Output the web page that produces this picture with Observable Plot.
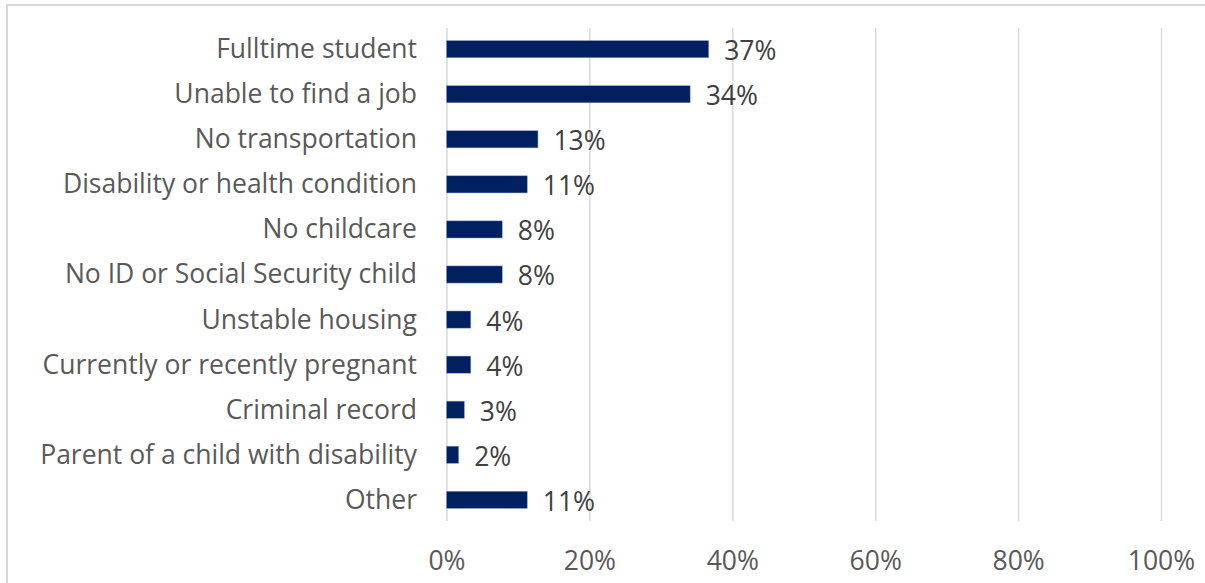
<!DOCTYPE html>
<html>
<head>
<meta charset="utf-8">
<script src="https://cdn.jsdelivr.net/npm/d3@7"></script>
<script src="https://cdn.jsdelivr.net/npm/@observablehq/plot@0.6"></script>
<style>
  html, body { margin: 0; padding: 0; background: #fff; overflow: hidden; width: 1205px; height: 583px; }
  #frame { position: absolute; left: 6px; top: 4px; width: 1400px; height: 800px; border: 2px solid #d9d9d9; box-sizing: border-box; }
  #chart { position: absolute; left: 0; top: 0; }
</style>
</head>
<body>
<div id="frame"></div>
<div id="chart"></div>
<script>
const categories = [
  "Fulltime student",
  "Unable to find a job",
  "No transportation",
  "Disability or health condition",
  "No childcare",
  "No ID or Social Security child",
  "Unstable housing",
  "Currently or recently pregnant",
  "Criminal record",
  "Parent of a child with disability",
  "Other"
];
const values = [36.7, 34.1, 12.8, 11.3, 7.8, 7.8, 3.4, 3.4, 2.5, 1.7, 11.3];
const valueLabels = ["37%", "34%", "13%", "11%", "8%", "8%", "4%", "4%", "3%", "2%", "11%"];
const xTicks = [0, 20, 40, 60, 80, 100];

const data = categories.map((c, i) => ({category: c, value: values[i], label: valueLabels[i]}));

const FONT = "'Open Sans', 'Noto Sans', sans-serif";
const FS = 26.5;
const chart = Plot.plot({
  width: 1205,
  height: 583,
  marginLeft: 446.5,
  marginRight: 44,
  marginTop: 28,
  marginBottom: 62,
  style: {fontFamily: FONT, color: "#595959", background: "transparent", overflow: "visible"},
  x: {domain: [0, 100], ticks: xTicks, tickFormat: d => d + "%"},
  y: {domain: categories, paddingInner: 0.62, paddingOuter: 0.28, round: false},
  marks: [
    Plot.gridX(xTicks, {stroke: "#d9d9d9", strokeOpacity: 1, strokeWidth: 1.5}),
    Plot.barX(data, {x: "value", y: "category", fill: "#002060", stroke: "#8a9ac0", strokeWidth: 0.5}),
    Plot.text(data, {x: "value", y: "category", text: "label", textAnchor: "start", dx: 15, dy: 2, fontSize: FS, fill: "#404040"}),
    Plot.axisY({tickSize: 0, tickPadding: 30, fontSize: FS, label: null}),
    Plot.axisX({ticks: xTicks, tickFormat: d => d + "%", tickSize: 0, tickPadding: 30, fontSize: FS, label: null})
  ]
});
document.getElementById("chart").appendChild(chart);
</script>
</body>
</html>
